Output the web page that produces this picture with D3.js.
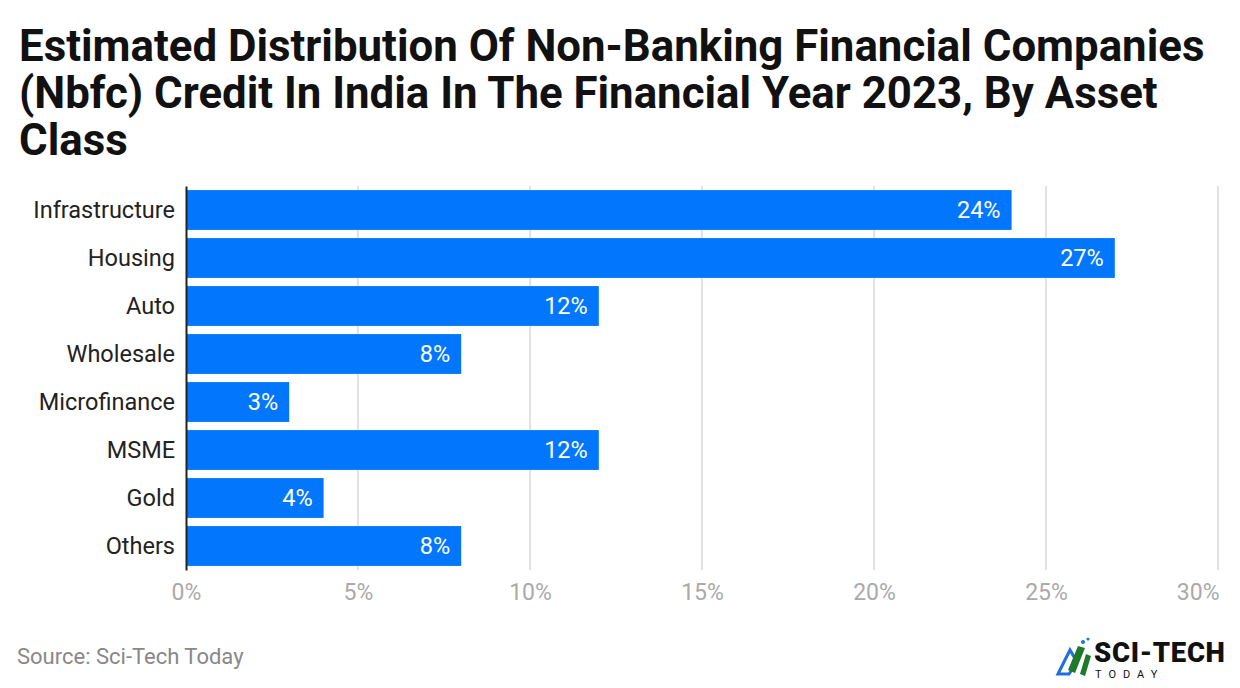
<!DOCTYPE html>
<html><head><meta charset="utf-8">
<script src="https://cdn.jsdelivr.net/npm/d3@7"></script>
<style>body{margin:0;background:#fff;}svg{display:block;font-family:Roboto,sans-serif;}</style>
</head><body>
<svg id="c" width="1240" height="688"></svg>
<script>
const categories = ["Infrastructure","Housing","Auto","Wholesale","Microfinance","MSME","Gold","Others"];
const values = [24,27,12,8,3,12,4,8];
const tickValues = [0,5,10,15,20,25,30];
const titleLines = ["Estimated Distribution Of Non-Banking Financial Companies","(Nbfc) Credit In India In The Financial Year 2023, By Asset","Class"];

const svg = d3.select("#c");
const m = {left:186, right:1218, top:186, bottom:570};
const x = d3.scaleLinear().domain([0,30]).range([m.left, m.right]);
const y = d3.scaleBand().domain(categories).range([m.top, m.bottom]).paddingInner(0.17).paddingOuter(0.085);

svg.selectAll("text.title").data(titleLines).join("text")
  .attr("x",19).attr("y",(d,i)=>61+i*47)
  .attr("font-size",43.8).attr("font-weight",700).attr("fill","#111")
  .text(d=>d);

// grid
svg.append("g").selectAll("line").data(tickValues.filter(d=>d>0)).join("line")
  .attr("x1",d=>x(d)).attr("x2",d=>x(d)).attr("y1",m.top).attr("y2",m.bottom)
  .attr("stroke","#e2e2e2").attr("stroke-width",2);

// bars
svg.append("g").selectAll("rect").data(values).join("rect")
  .attr("x",x(0)).attr("y",(d,i)=>y(categories[i]))
  .attr("width",d=>x(d)-x(0)).attr("height",y.bandwidth())
  .attr("fill","#0277fe");

svg.append("g").selectAll("text").data(values).join("text")
  .attr("x",d=>x(d)-11).attr("y",(d,i)=>y(categories[i])+y.bandwidth()/2)
  .attr("dy","0.35em").attr("text-anchor","end")
  .attr("font-size",23.5).attr("fill","#fff").text(d=>d+"%");

// y axis
const yAxis = svg.append("g").attr("transform",`translate(${m.left},0)`)
  .call(d3.axisLeft(y).tickSize(0).tickPadding(11));
yAxis.select(".domain").attr("stroke","#222").attr("stroke-width",2);
yAxis.selectAll("text").attr("font-size",23.5).attr("fill","#222").attr("font-family","Roboto");

// x axis
const xAxis = svg.append("g").attr("transform",`translate(0,${m.bottom})`)
  .call(d3.axisBottom(x).tickValues(tickValues).tickSize(0).tickPadding(14).tickFormat(d=>d+"%"));
xAxis.select(".domain").remove();
xAxis.selectAll("text").attr("font-size",23).attr("fill","#aaa").attr("font-family","Roboto");
xAxis.selectAll(".tick").filter(d=>d===30).select("text").attr("text-anchor","end").attr("x",1);

svg.append("text").attr("x",17).attr("y",664).attr("font-size",22).attr("fill","#888").text("Source: Sci-Tech Today");

// logo
const lg = svg.append("g").attr("transform","translate(1056,638)");
lg.append("path").attr("d","M2,36 L14,12 L21,24 L13,36 Z").attr("fill","none").attr("stroke","#1e6fe0").attr("stroke-width",3);
lg.append("path").attr("d","M12,32 L22,8 L29,10 L19,35 Z").attr("fill","#1d7a2a");
lg.append("path").attr("d","M24,36 L30,16 L35,18 L29,38 Z").attr("fill","#1d7a2a");
lg.append("circle").attr("cx",27).attr("cy",4).attr("r",2).attr("fill","#1e6fe0");
lg.append("circle").attr("cx",32).attr("cy",1).attr("r",1.5).attr("fill","#1e6fe0");
lg.append("text").attr("x",38).attr("y",24).attr("font-size",27.5).attr("font-weight",900).attr("letter-spacing",0.7).attr("fill","#111").attr("font-family","Roboto").text("SCI-TECH");
lg.append("text").attr("x",39).attr("y",40).attr("font-size",11).attr("letter-spacing",7).attr("fill","#111").attr("font-family","Roboto").text("TODAY");
</script>
</body></html>
